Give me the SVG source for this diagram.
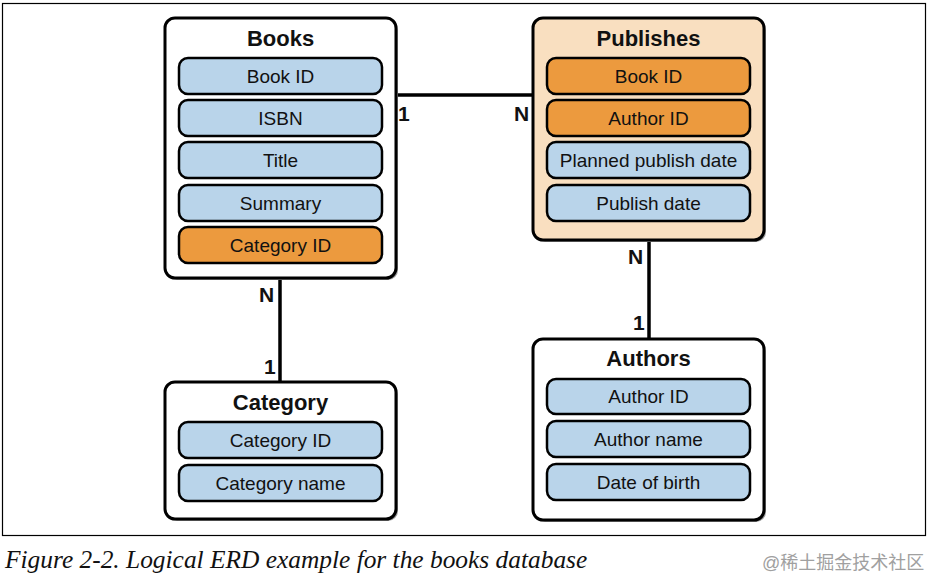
<svg xmlns="http://www.w3.org/2000/svg" width="930" height="580" viewBox="0 0 930 580">
<style>
.frame{fill:#fff;stroke:#000;stroke-width:1.2}
.ent{fill:#fff;stroke:#000;stroke-width:3}
.pub{fill:#f9dfc0}
.shadow{fill:#9a9a9a}
.attr{fill:#b9d4ea;stroke:#000;stroke-width:2.5}
.key{fill:#ec9a3e;stroke:#000;stroke-width:2.5}
.t{font-family:"Liberation Sans Narrow","Liberation Sans",Arial,sans-serif;text-anchor:middle;fill:#111}
.title{font-size:22px;font-weight:bold}
.lab{font-size:19px}
.card{font-family:"Liberation Sans Narrow","Liberation Sans",Arial,sans-serif;font-size:21px;font-weight:bold;fill:#111}
.line{stroke:#000;stroke-width:3.5;fill:none}
.cap{font-family:"Liberation Serif","Times New Roman",serif;font-style:italic;font-size:25.4px;fill:#111}
.wm{font-family:"Liberation Sans","Noto Sans CJK SC",sans-serif;font-size:18px;fill:#a0a0a0}
</style>
<rect x="0" y="0" width="930" height="580" fill="#fff"/>
<rect class="frame" x="2.5" y="3.5" width="923" height="532"/>
<g id="connectors">
<line class="line" x1="396" y1="95" x2="533" y2="95"/>
<line class="line" x1="280" y1="278" x2="280" y2="382"/>
<line class="line" x1="649" y1="240" x2="649" y2="339"/>
<text class="card" x="398" y="121">1</text>
<text class="card" x="514" y="121">N</text>
<text class="card" x="259" y="302">N</text>
<text class="card" x="264" y="374">1</text>
<text class="card" x="628" y="264">N</text>
<text class="card" x="633" y="330">1</text>
</g>
<g id="books">
<rect class="shadow" x="167" y="20" width="231" height="260" rx="10"/>
<rect class="ent" x="165" y="18" width="231" height="260" rx="10"/>
<text class="t title" x="280.5" y="46">Books</text>
<rect class="attr" x="179" y="58" width="203" height="36" rx="9"/>
<text class="t lab" x="280.5" y="83">Book ID</text>
<rect class="attr" x="179" y="100" width="203" height="36" rx="9"/>
<text class="t lab" x="280.5" y="125">ISBN</text>
<rect class="attr" x="179" y="142" width="203" height="36" rx="9"/>
<text class="t lab" x="280.5" y="167">Title</text>
<rect class="attr" x="179" y="185" width="203" height="36" rx="9"/>
<text class="t lab" x="280.5" y="210">Summary</text>
<rect class="key" x="179" y="227" width="203" height="36" rx="9"/>
<text class="t lab" x="280.5" y="252">Category ID</text>
</g>
<g id="publishes">
<rect class="shadow" x="535" y="20" width="231" height="222" rx="10"/>
<rect class="ent pub" x="533" y="18" width="231" height="222" rx="10"/>
<text class="t title" x="648.5" y="46">Publishes</text>
<rect class="key" x="547" y="58" width="203" height="36" rx="9"/>
<text class="t lab" x="648.5" y="83">Book ID</text>
<rect class="key" x="547" y="100" width="203" height="36" rx="9"/>
<text class="t lab" x="648.5" y="125">Author ID</text>
<rect class="attr" x="547" y="142" width="203" height="36" rx="9"/>
<text class="t lab" x="648.5" y="167">Planned publish date</text>
<rect class="attr" x="547" y="185" width="203" height="36" rx="9"/>
<text class="t lab" x="648.5" y="210">Publish date</text>
</g>
<g id="category">
<rect class="shadow" x="167" y="384" width="231" height="137" rx="10"/>
<rect class="ent" x="165" y="382" width="231" height="137" rx="10"/>
<text class="t title" x="280.5" y="410">Category</text>
<rect class="attr" x="179" y="422" width="203" height="36" rx="9"/>
<text class="t lab" x="280.5" y="447">Category ID</text>
<rect class="attr" x="179" y="465" width="203" height="36" rx="9"/>
<text class="t lab" x="280.5" y="490">Category name</text>
</g>
<g id="authors">
<rect class="shadow" x="535" y="341" width="231" height="181" rx="10"/>
<rect class="ent" x="533" y="339" width="231" height="181" rx="10"/>
<text class="t title" x="648.5" y="366">Authors</text>
<rect class="attr" x="547" y="379" width="203" height="35" rx="9"/>
<text class="t lab" x="648.5" y="403">Author ID</text>
<rect class="attr" x="547" y="421" width="203" height="36" rx="9"/>
<text class="t lab" x="648.5" y="446">Author name</text>
<rect class="attr" x="547" y="464" width="203" height="36" rx="9"/>
<text class="t lab" x="648.5" y="489">Date of birth</text>
</g>
<text class="cap" x="5" y="568">Figure 2-2. Logical ERD example for the books database</text>
<text class="wm" x="762" y="569">@稀土掘金技术社区</text>
</svg>
